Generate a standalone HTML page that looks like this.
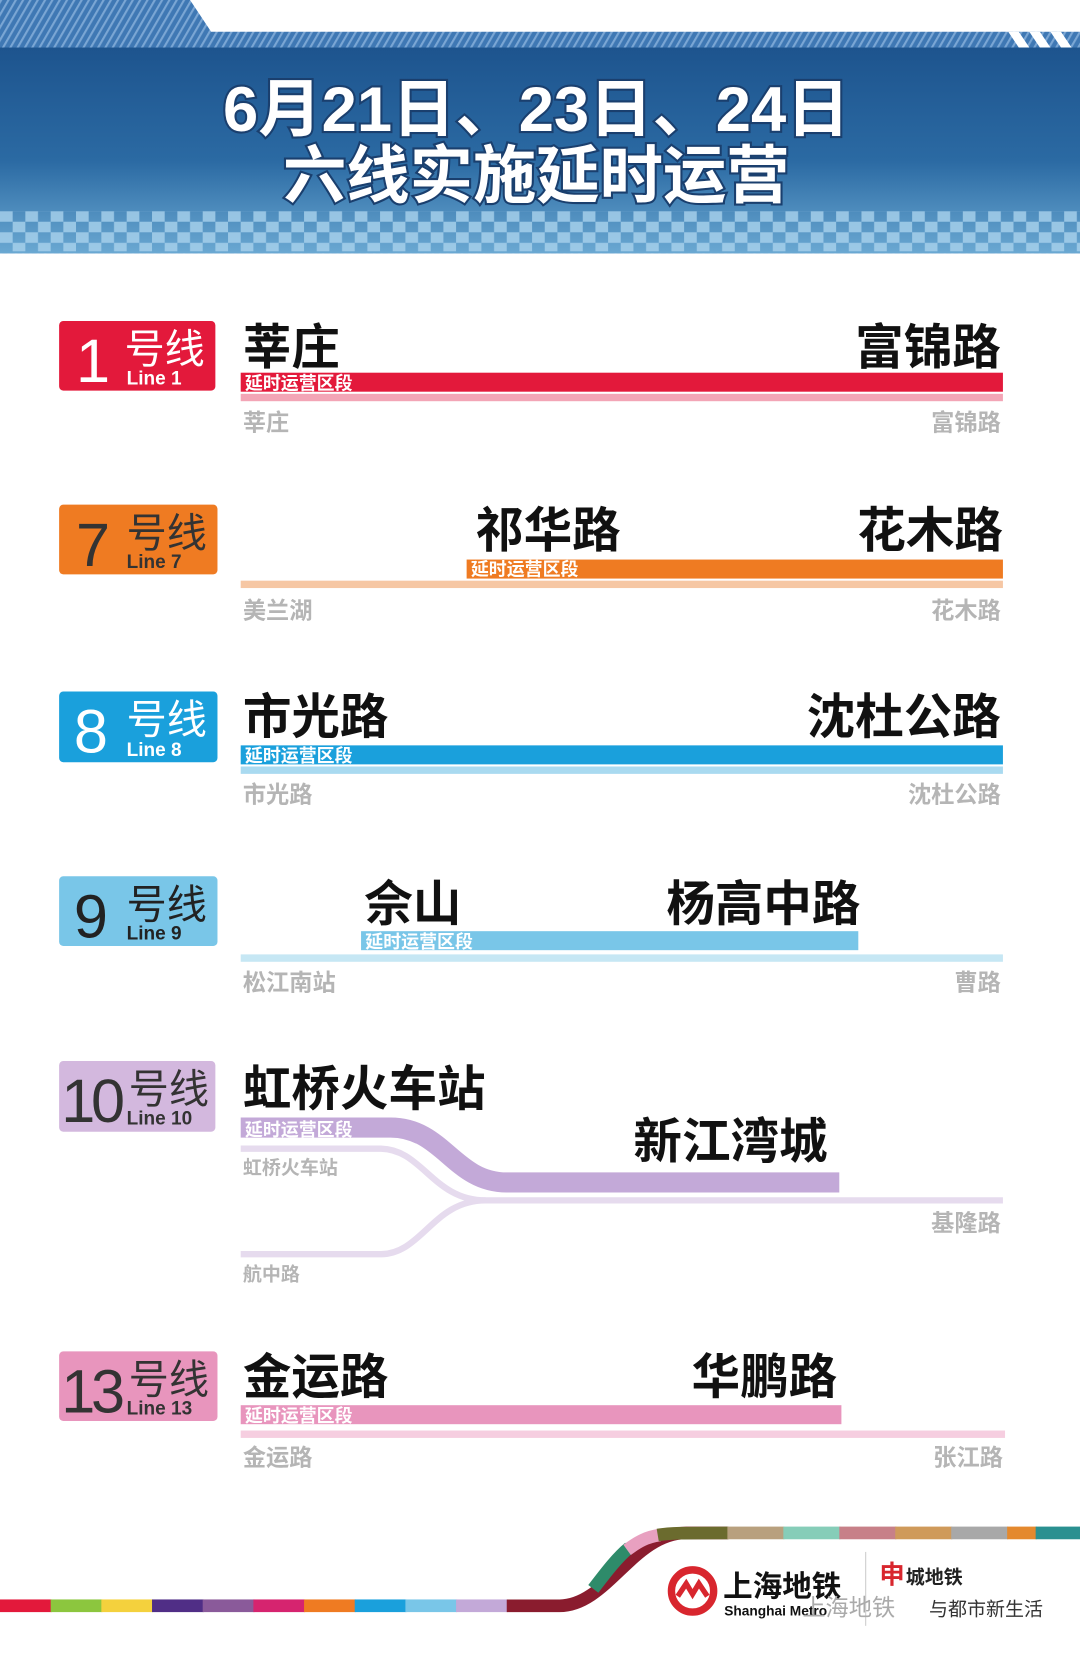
<!DOCTYPE html>
<html><head><meta charset="utf-8"><style>
html,body{margin:0;padding:0;background:#fff;}
svg{display:block;font-family:"Liberation Sans","Noto Sans CJK SC",sans-serif;font-weight:bold;}
</style></head><body>
<svg width="1080" height="1655" viewBox="0 0 1023 1567.6" xmlns="http://www.w3.org/2000/svg">
<defs>
<linearGradient id="hg" x1="0" y1="0" x2="0" y2="1">
<stop offset="0" stop-color="#1d548e"/><stop offset="0.55" stop-color="#2b6aa3"/><stop offset="1" stop-color="#6aa8d2"/>
</linearGradient>
<pattern id="hatch" width="6" height="6" patternUnits="userSpaceOnUse" patternTransform="rotate(30)">
<rect width="6" height="6" fill="#3f78b4"/><rect width="2" height="6" fill="#7aa6d4"/>
</pattern>
<pattern id="chk" width="24" height="20" patternUnits="userSpaceOnUse">
<rect x="0" y="0" width="12" height="10" fill="#a9d2ec" opacity="0.8"/><rect x="12" y="10" width="12" height="10" fill="#a9d2ec" opacity="0.8"/>
</pattern>
</defs>
<polygon points="0,0 180,0 200,30 1023,30 1023,240 0,240" fill="url(#hatch)"/>
<rect x="0" y="45" width="1023" height="195" fill="url(#hg)"/>
<rect x="0" y="200" width="1023" height="38" fill="url(#chk)"/>
<polygon points="955,30 965,30 975,45 965,45" fill="#fff"/>
<polygon points="975,30 985,30 995,45 985,45" fill="#fff"/>
<polygon points="995,30 1005,30 1015,45 1005,45" fill="#fff"/>
<g fill="#fff" stroke="#1a3f6e" stroke-width="4" paint-order="stroke" text-anchor="middle" font-size="60">
<text x="508" y="124">6月21日、23日、24日</text>
<text x="508" y="187">六线实施延时运营</text>
</g>

<g font-size="46" fill="#111">
<rect x="56" y="304" width="148" height="66" rx="4" fill="#e3193b"/>
<text x="72" y="362" font-size="58" fill="#fff" font-weight="normal">1</text>
<text x="118" y="344" font-size="38" fill="#fff" font-weight="normal">号线</text>
<text x="120" y="364" font-size="18" fill="#fff">Line 1</text>
<text x="230" y="345">莘庄</text>
<text x="948" y="345" text-anchor="end">富锦路</text>
<rect x="228" y="353" width="722" height="18" fill="#e3193b"/>
<rect x="228" y="373" width="722" height="7" fill="#f3a5b6"/>
<text x="232" y="369" font-size="17" fill="#fff">延时运营区段</text>
<text x="230" y="408" font-size="22" fill="#b5b5b5">莘庄</text>
<text x="948" y="408" font-size="22" fill="#b5b5b5" text-anchor="end">富锦路</text>

<rect x="56" y="478" width="150" height="66" rx="4" fill="#ef7b22"/>
<text x="72" y="536" font-size="58" fill="#333" font-weight="normal">7</text>
<text x="120" y="518" font-size="38" fill="#333" font-weight="normal">号线</text>
<text x="120" y="538" font-size="18" fill="#333">Line 7</text>
<text x="450" y="518">祁华路</text>
<text x="950" y="518" text-anchor="end">花木路</text>
<rect x="442" y="530" width="508" height="18" fill="#ef7b22"/>
<rect x="228" y="550" width="722" height="7" fill="#f6c7a4"/>
<text x="446" y="545" font-size="17" fill="#fff">延时运营区段</text>
<text x="230" y="586" font-size="22" fill="#b5b5b5">美兰湖</text>
<text x="948" y="586" font-size="22" fill="#b5b5b5" text-anchor="end">花木路</text>

<rect x="56" y="655" width="150" height="67" rx="4" fill="#1aa0dc"/>
<text x="70" y="713" font-size="58" fill="#fff" font-weight="normal">8</text>
<text x="120" y="695" font-size="38" fill="#fff" font-weight="normal">号线</text>
<text x="120" y="716" font-size="18" fill="#fff">Line 8</text>
<text x="230" y="695">市光路</text>
<text x="948" y="695" text-anchor="end">沈杜公路</text>
<rect x="228" y="706" width="722" height="18" fill="#1aa0dc"/>
<rect x="228" y="726" width="722" height="7" fill="#a9daf0"/>
<text x="232" y="722" font-size="17" fill="#fff">延时运营区段</text>
<text x="230" y="760" font-size="22" fill="#b5b5b5">市光路</text>
<text x="948" y="760" font-size="22" fill="#b5b5b5" text-anchor="end">沈杜公路</text>

<rect x="56" y="830" width="150" height="66" rx="4" fill="#79c6e8"/>
<text x="70" y="888" font-size="58" fill="#222" font-weight="normal">9</text>
<text x="120" y="870" font-size="38" fill="#222" font-weight="normal">号线</text>
<text x="120" y="890" font-size="18" fill="#222">Line 9</text>
<text x="345" y="872">佘山</text>
<text x="815" y="872" text-anchor="end">杨高中路</text>
<rect x="342" y="882" width="471" height="18" fill="#79c6e8"/>
<rect x="228" y="904" width="722" height="7" fill="#c6e7f4"/>
<text x="346" y="898" font-size="17" fill="#fff">延时运营区段</text>
<text x="230" y="938" font-size="22" fill="#b5b5b5">松江南站</text>
<text x="948" y="938" font-size="22" fill="#b5b5b5" text-anchor="end">曹路</text>

<rect x="56" y="1005" width="148" height="67" rx="4" fill="#d3b8de"/>
<text x="58" y="1063" font-size="58" fill="#333" font-weight="normal" letter-spacing="-4">10</text>
<text x="122" y="1045" font-size="38" fill="#333" font-weight="normal">号线</text>
<text x="120" y="1065" font-size="18" fill="#333">Line 10</text>
<text x="230" y="1047">虹桥火车站</text>
<text x="600" y="1097">新江湾城</text>
<path d="M228,1088 L360,1088 C400,1088 410,1137 460,1137 L950,1137" fill="none" stroke="#e6dbee" stroke-width="6"/>
<path d="M228,1188 L360,1188 C400,1188 410,1137 460,1137" fill="none" stroke="#e6dbee" stroke-width="6"/>
<path d="M228,1068 L370,1068 C420,1068 430,1120 480,1120 L795,1120" fill="none" stroke="#c3a9d8" stroke-width="19"/>
<text x="232" y="1076" font-size="17" fill="#fff">延时运营区段</text>
<text x="230" y="1112" font-size="18" fill="#b5b5b5">虹桥火车站</text>
<text x="948" y="1166" font-size="22" fill="#b5b5b5" text-anchor="end">基隆路</text>
<text x="230" y="1213" font-size="18" fill="#b5b5b5">航中路</text>

<rect x="56" y="1280" width="150" height="66" rx="4" fill="#e895bd"/>
<text x="58" y="1338" font-size="58" fill="#333" font-weight="normal" letter-spacing="-4">13</text>
<text x="122" y="1320" font-size="38" fill="#333" font-weight="normal">号线</text>
<text x="120" y="1340" font-size="18" fill="#333">Line 13</text>
<text x="230" y="1320">金运路</text>
<text x="793" y="1320" text-anchor="end">华鹏路</text>
<rect x="228" y="1331" width="569" height="18" fill="#e895bd"/>
<rect x="228" y="1355" width="724" height="7" fill="#f6cee0"/>
<text x="232" y="1347" font-size="17" fill="#fff">延时运营区段</text>
<text x="230" y="1388" font-size="22" fill="#b5b5b5">金运路</text>
<text x="950" y="1388" font-size="22" fill="#b5b5b5" text-anchor="end">张江路</text>
</g>

<g>
<rect x="0" y="1515" width="49" height="12" fill="#e3193b"/>
<rect x="48" y="1515" width="49" height="12" fill="#8cc63e"/>
<rect x="96" y="1515" width="49" height="12" fill="#f4d13d"/>
<rect x="144" y="1515" width="49" height="12" fill="#502e86"/>
<rect x="192" y="1515" width="49" height="12" fill="#8a5a9a"/>
<rect x="240" y="1515" width="49" height="12" fill="#d6246f"/>
<rect x="288" y="1515" width="49" height="12" fill="#ef7b22"/>
<rect x="336" y="1515" width="49" height="12" fill="#1aa0dc"/>
<rect x="384" y="1515" width="49" height="12" fill="#79c6e8"/>
<rect x="432" y="1515" width="49" height="12" fill="#c3a9d8"/>
<path d="M480,1521 L530,1521 C575,1521 600,1452 650,1452 L690,1452" fill="none" stroke="#8a1c2e" stroke-width="12"/>
<path d="M562,1505 C575,1488 585,1475 596,1466" fill="none" stroke="#2e8b6a" stroke-width="12"/>
<path d="M594,1468 C605,1460 612,1456 625,1454" fill="none" stroke="#e8a0c0" stroke-width="12"/>
<path d="M623,1454 C635,1452 645,1452 690,1452" fill="none" stroke="#6b6b2e" stroke-width="12"/>
<rect x="689" y="1446" width="54" height="12" fill="#b8a07e"/>
<rect x="742" y="1446" width="54" height="12" fill="#86cdb8"/>
<rect x="795" y="1446" width="54" height="12" fill="#c78088"/>
<rect x="848" y="1446" width="54" height="12" fill="#cf9a5a"/>
<rect x="901" y="1446" width="54" height="12" fill="#a8a8a8"/>
<rect x="954" y="1446" width="28" height="12" fill="#e4892e"/>
<rect x="981" y="1446" width="42" height="12" fill="#2a9090"/>
</g>
<circle cx="656" cy="1507" r="20" fill="#fff" stroke="#d8262e" stroke-width="7"/>
<path d="M642,1512 L650,1500 L656,1510 L662,1500 L670,1512" fill="none" stroke="#d8262e" stroke-width="5"/>
<text x="685" y="1512" font-size="28" fill="#111">上海地铁</text>
<text x="686" y="1530" font-size="13" fill="#111">Shanghai Metro</text>
<line x1="820" y1="1470" x2="820" y2="1540" stroke="#ccc" stroke-width="1"/>
<text x="833" y="1500" font-size="24" fill="#d8262e">申</text>
<text x="858" y="1500" font-size="18" fill="#222">城地铁</text>
<text x="760" y="1530" font-size="22" fill="#aaa" font-weight="normal">上海地铁</text>
<text x="880" y="1530" font-size="18" fill="#333" font-weight="normal">与都市新生活</text>
</svg>
</body></html>
